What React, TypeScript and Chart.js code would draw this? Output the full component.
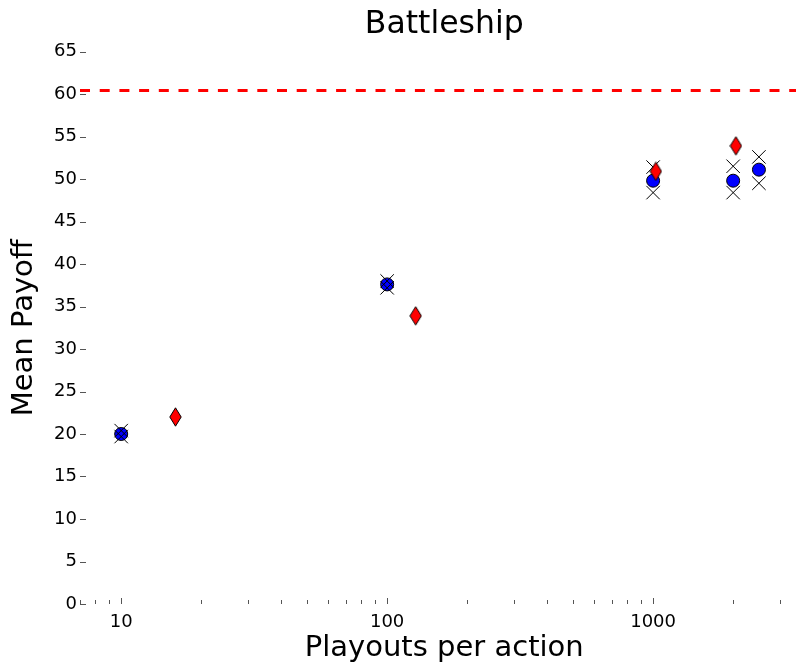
import React, { useEffect, useRef } from "react";
import { Chart, registerables } from "chart.js";

Chart.register(...registerables);

// ---- data ----
const PLAYOUTS = [10, 100, 1000, 2000, 2500];
const MEAN_PAYOFF = [20.0, 37.6, 49.8, 49.8, 51.1];
const UPPER_PAYOFF = [20.4, 38.0, 51.4, 51.5, 52.6];
const LOWER_PAYOFF = [19.7, 37.2, 48.4, 48.4, 49.5];
const ALT_PLAYOUTS = [16, 128, 1024, 2048];
const ALT_PAYOFF = [22.0, 33.9, 50.9, 53.9];
const REFERENCE_PAYOFF = 60.4;

const X_TICKS = [
  7, 8, 9, 10, 20, 30, 40, 50, 60, 70, 80, 90, 100, 200, 300, 400, 500, 600,
  700, 800, 900, 1000, 2000, 3000,
];
const X_LABELED = [10, 100, 1000];
const X_MIN = 7;
const X_MAX = 3840;
const Y_MIN = 0;
const Y_MAX = 65;
const Y_STEP = 5;

const FONT = "'DejaVu Sans', sans-serif";

function makeDiamond(): HTMLCanvasElement {
  const c = document.createElement("canvas");
  c.width = 13;
  c.height = 20;
  const g = c.getContext("2d")!;
  g.beginPath();
  g.moveTo(6.5, 0.8);
  g.lineTo(12.2, 10);
  g.lineTo(6.5, 19.2);
  g.lineTo(0.8, 10);
  g.closePath();
  g.fillStyle = "#ff0000";
  g.fill();
  g.lineWidth = 1;
  g.strokeStyle = "#000";
  g.stroke();
  return c;
}

const decorPlugin = {
  id: "decor",
  beforeDatasetsDraw(chart: any) {
    const { ctx, chartArea: a, scales } = chart;
    const x = scales.x;
    const y = scales.y;
    ctx.save();
    // reference line
    const py = y.getPixelForValue(REFERENCE_PAYOFF);
    ctx.strokeStyle = "#ff0000";
    ctx.lineWidth = 3;
    ctx.setLineDash([10, 9.7]);
    ctx.beginPath();
    ctx.moveTo(a.left, py);
    ctx.lineTo(a.right, py);
    ctx.stroke();
    ctx.setLineDash([]);
    // inward ticks
    ctx.strokeStyle = "#555";
    ctx.lineWidth = 1;
    ctx.beginPath();
    for (const t of y.ticks) {
      const p = Math.round(y.getPixelForValue(t.value)) + 0.5;
      ctx.moveTo(a.left, p);
      ctx.lineTo(a.left + 6, p);
    }
    for (const t of x.ticks) {
      const p = Math.round(x.getPixelForValue(t.value)) + 0.5;
      const len = X_LABELED.includes(t.value) ? 6 : 4;
      ctx.moveTo(p, a.bottom);
      ctx.lineTo(p, a.bottom - len);
    }
    ctx.stroke();
    ctx.restore();
  },
};

export default function App() {
  const ref = useRef<HTMLCanvasElement | null>(null);

  useEffect(() => {
    if (!ref.current) return;
    const diamond = makeDiamond();
    const toPts = (xs: number[], ys: number[]) =>
      xs.map((v, i) => ({ x: v, y: ys[i] }));

    const chart = new Chart(ref.current, {
      type: "scatter",
      data: {
        datasets: [
          {
            label: "alt",
            data: toPts(ALT_PLAYOUTS, ALT_PAYOFF),
            pointStyle: diamond as any,
            pointRadius: 9,
            backgroundColor: "#ff0000",
            borderColor: "#000",
          },
          {
            label: "upper",
            data: toPts(PLAYOUTS, UPPER_PAYOFF),
            pointStyle: "crossRot",
            pointRadius: 9.5,
            borderWidth: 1,
            borderColor: "#000",
            backgroundColor: "#000",
          },
          {
            label: "lower",
            data: toPts(PLAYOUTS, LOWER_PAYOFF),
            pointStyle: "crossRot",
            pointRadius: 9.5,
            borderWidth: 1,
            borderColor: "#000",
            backgroundColor: "#000",
          },
          {
            label: "mean",
            data: toPts(PLAYOUTS, MEAN_PAYOFF),
            pointStyle: "circle",
            pointRadius: 6.5,
            borderWidth: 1,
            borderColor: "#000",
            backgroundColor: "#0000ff",
          },
        ],
      },
      options: {
        animation: false,
        responsive: false,
        events: [],
        layout: { padding: 0 },
        plugins: {
          legend: { display: false },
          tooltip: { enabled: false },
          title: {
            display: true,
            text: "Battleship",
            fullSize: false,
            color: "#000",
            font: { family: FONT, size: 31.5, weight: "normal" },
            padding: { top: 6, bottom: 7.7 },
          },
        },
        scales: {
          x: {
            type: "logarithmic",
            min: X_MIN,
            max: X_MAX,
            grid: { display: false, drawTicks: false, tickLength: 0 },
            border: { display: false },
            afterBuildTicks: (s: any) => {
              s.ticks = X_TICKS.map((v) => ({ value: v }));
            },
            afterFit: (s: any) => {
              s.height = 62;
            },
            ticks: {
              autoSkip: false,
              maxRotation: 0,
              minRotation: 0,
              padding: 8,
              color: "#000",
              font: { family: FONT, size: 18 },
              callback: (v: any) =>
                X_LABELED.includes(Number(v)) ? String(v) : "",
            },
            title: {
              display: true,
              text: "Playouts per action",
              color: "#000",
              font: { family: FONT, size: 29 },
              padding: { top: 0, bottom: 0 },
            },
          },
          y: {
            min: Y_MIN,
            max: Y_MAX,
            grid: { display: false, drawTicks: false, tickLength: 0 },
            border: { display: false },
            afterFit: (s: any) => {
              s.width = 80;
            },
            ticks: {
              stepSize: Y_STEP,
              padding: 3,
              color: "#000",
              font: { family: FONT, size: 18 },
            },
            title: {
              display: true,
              text: "Mean Payoff",
              color: "#000",
              font: { family: FONT, size: 29 },
              padding: { top: 7, bottom: 0 },
            },
          },
        },
      },
      plugins: [decorPlugin],
    });
    return () => chart.destroy();
  }, []);

  return (
    <div
      style={{
        position: "fixed",
        left: 0,
        top: 0,
        width: 796,
        height: 666,
        overflow: "hidden",
        background: "#fff",
      }}
    >
      <canvas
        ref={ref}
        width={819}
        height={666}
        style={{ display: "block", width: 819, height: 666 }}
      />
    </div>
  );
}
